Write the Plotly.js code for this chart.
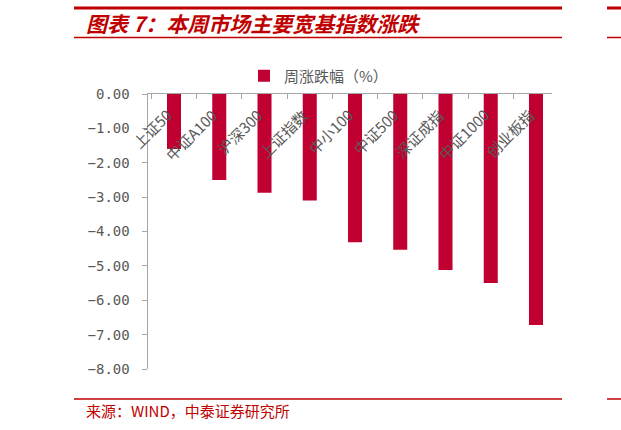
<!DOCTYPE html>
<html>
<head>
<meta charset="utf-8">
<script src="https://cdn.plot.ly/plotly-3.0.1.min.js"></script>
<style>
  html, body { margin: 0; padding: 0; background: #fff; }
  #chart { width: 621px; height: 430px; }
</style>
</head>
<body>
<div id="chart"></div>
<script>
// 本周市场主要宽基指数涨跌 (%)
const categories = ['上证50', '中证A100', '沪深300', '上证指数', '中小100', '中证500', '深证成指', '中证1000', '创业板指'];
const weeklyChange = [-1.60, -2.50, -2.87, -3.10, -4.31, -4.53, -5.12, -5.50, -6.72];
const seriesName = '周涨跌幅（%）';
const yTicks = [0, -1, -2, -3, -4, -5, -6, -7, -8];

const RED = '#c00000';
const BAR = '#c00030';
const GREY = '#595959';
const CJK = '"Noto Sans CJK SC", "Noto Sans", sans-serif';
const MONO = '"DejaVu Sans Mono", monospace';

// pixel -> paper helpers (plot area 148..552 x 94..369)
const L = 148, R = 552, T = 94, B = 369;
const px = x => (x - L) / (R - L);
const py = y => (B - y) / (B - T);

const trace = {
    type: 'bar',
    x: categories,
    y: weeklyChange,
    name: seriesName,
    width: 0.31,
    marker: { color: BAR },
    showlegend: true
};

// category labels drawn inside the plot, under the top axis
const labelAnnotations = categories.map(c => ({
    x: c, y: 0, xref: 'x', yref: 'y',
    text: c, showarrow: false,
    textangle: -45,
    xanchor: 'right', yanchor: 'top',
    xshift: 5, yshift: -8,
    font: { family: CJK, size: 15, color: GREY }
}));

function hline(x0, x1, y, w) {
    return { type: 'line', xref: 'paper', yref: 'paper',
        x0: px(x0), x1: px(x1), y0: py(y), y1: py(y),
        line: { color: RED, width: w } };
}

const layout = {
    width: 621, height: 430,
    margin: { l: L, r: 621 - R, t: T, b: 430 - B, pad: 0 },
    paper_bgcolor: '#fff',
    plot_bgcolor: '#fff',
    font: { family: CJK, color: GREY },
    xaxis: {
        type: 'category',
        range: [-0.575, 8.354],
        side: 'top',
        showticklabels: false,
        showline: true, linecolor: '#a6a6a6', linewidth: 1.5,
        ticks: 'inside', ticklen: 5, tickcolor: '#a6a6a6',
        tickson: 'boundaries',
        showgrid: false, zeroline: false,
        fixedrange: true
    },
    yaxis: {
        range: [-8, 0],
        tickvals: yTicks,
        tickformat: '.2f',
        showline: true, linecolor: '#a6a6a6', linewidth: 1.5,
        ticks: 'outside', ticklen: 5, tickcolor: '#a6a6a6',
        ticklabelstandoff: 9,
        showgrid: false, zeroline: false,
        tickfont: { family: MONO, size: 14, color: GREY },
        automargin: false,
        fixedrange: true
    },
    legend: {
        orientation: 'h',
        x: px(244), y: py(76), xanchor: 'left', yanchor: 'middle',
        font: { family: CJK, size: 15, color: GREY },
        itemwidth: 30
    },
    shapes: [
        hline(74, 562, 8, 3),
        hline(74, 562, 37.5, 1.5),
        hline(74, 562, 399, 1.5),
        hline(607, 621, 8, 3),
        hline(607, 621, 37.5, 1.5),
        hline(607, 621, 399, 1.5)
    ],
    annotations: [
        {
            xref: 'paper', yref: 'paper', x: px(84), y: py(23),
            xanchor: 'left', yanchor: 'middle', showarrow: false,
            text: '<b><i>图表 7：本周市场主要宽基指数涨跌</i></b>',
            font: { family: CJK, size: 21, color: RED }
        },
        {
            xref: 'paper', yref: 'paper', x: px(84), y: py(410),
            xanchor: 'left', yanchor: 'middle', showarrow: false,
            text: '来源：WIND，中泰证券研究所',
            font: { family: CJK, size: 15, color: RED }
        }
    ].concat(labelAnnotations)
};

Plotly.newPlot('chart', [trace], layout, { displayModeBar: false, staticPlot: true });
</script>
</body>
</html>
